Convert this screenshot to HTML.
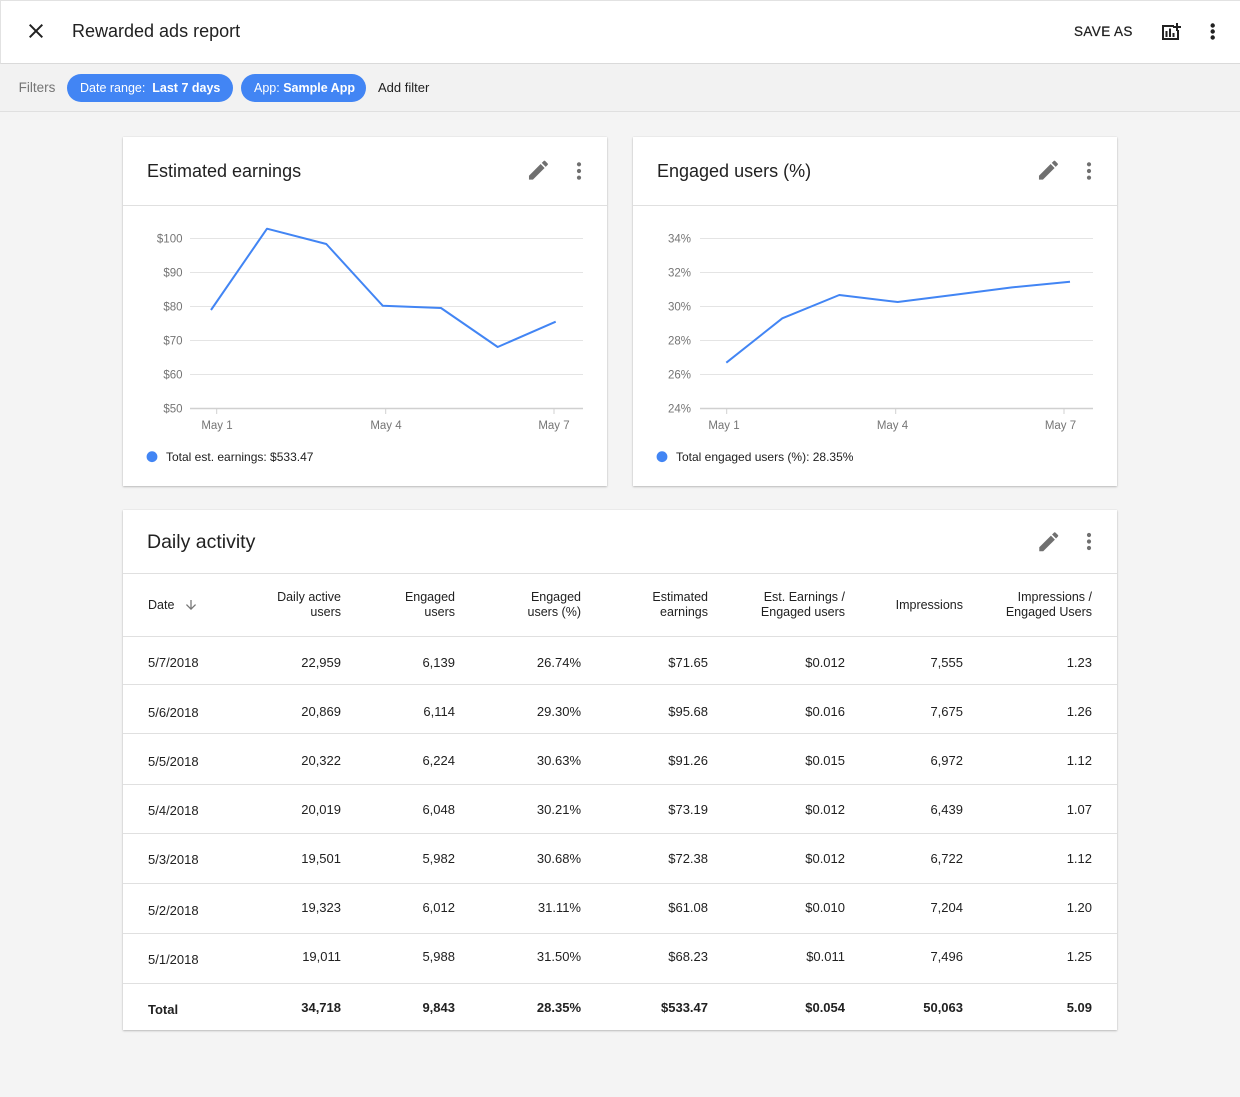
<!DOCTYPE html>
<html><head><meta charset="utf-8">
<style>
*{box-sizing:border-box}
html,body{margin:0;padding:0}
body{width:1240px;height:1097px;background:#f4f4f4;position:relative;overflow:hidden;font-family:"Liberation Sans",Arial,sans-serif;color:#212121}
.a{position:absolute;white-space:nowrap}
.top{position:absolute;left:0;top:0;width:1240px;height:64px;background:#fff;border-top:1px solid #e2e2e2;border-bottom:1px solid #dadada;border-left:1px solid #e2e2e2}
.fbar{position:absolute;left:0;top:64px;width:1240px;height:48px;background:#f2f2f2;border-bottom:1px solid #e0e0e0}
.chip{position:absolute;top:74px;height:28px;border-radius:14px;background:#4285f4;color:#fff;font-size:12.5px;line-height:28px;padding:0 0 0 13px;white-space:nowrap}
.card{position:absolute;background:#fff;box-shadow:0 1px 2px rgba(0,0,0,.22),0 0 1px rgba(0,0,0,.12)}
.hr{position:absolute;height:1px;background:#e0e0e0}
.h{position:absolute;font-size:12.5px;line-height:15px;text-align:right;white-space:nowrap;color:#212121}
.r{position:absolute;left:0;width:1240px;height:20px}
.r div{position:absolute;top:0;font-size:13px;line-height:20px;white-space:nowrap;color:#212121}
.r .c0{left:148px}
.c1{right:899px}.c2{right:785px}.c3{right:659px}.c4{right:532px}.c5{right:395px}.c6{right:277px}.c7{right:148px}
.b div{font-weight:bold}
</style></head><body>

<div class="top"></div>
<div class="fbar"></div>
<div class="a" style="left:72px;top:19px;font-size:18px;line-height:24px;color:#212121">Rewarded ads report</div>
<div class="a" style="left:1074px;top:23px;font-size:13.5px;line-height:18px;letter-spacing:0.4px;color:#202020;-webkit-text-stroke:0.25px #202020">SAVE AS</div>

<div class="a" style="left:18.6px;top:79px;font-size:13.5px;line-height:18px;color:#757575">Filters</div>
<div class="chip" style="left:67px;width:166px">Date range:&nbsp; <b>Last 7 days</b></div>
<div class="chip" style="left:241px;width:125px">App:&nbsp;<b>Sample App</b></div>
<div class="a" style="left:378px;top:79px;font-size:13px;line-height:18px;color:#212121">Add filter</div>

<!-- cards -->
<div class="card" style="left:123px;top:137px;width:484px;height:349px"></div>
<div class="card" style="left:633px;top:137px;width:484px;height:349px"></div>
<div class="card" style="left:123px;top:510px;width:994px;height:520px"></div>

<div class="hr" style="left:123px;top:205px;width:484px"></div>
<div class="hr" style="left:633px;top:205px;width:484px"></div>

<div class="a" style="left:147px;top:158.7px;font-size:18px;line-height:24px;color:#212121">Estimated earnings</div>
<div class="a" style="left:657px;top:158.7px;font-size:18px;line-height:24px;color:#212121">Engaged users (%)</div>
<div class="a" style="left:147px;top:529.3px;font-size:19.5px;line-height:26px;color:#212121">Daily activity</div>

<svg class="a" style="left:0;top:0" width="1240" height="1097" viewBox="0 0 1240 1097" xmlns="http://www.w3.org/2000/svg">
  <!-- top bar icons -->
  <path transform="translate(24,19)" fill="#212121" d="M19 6.41L17.59 5 12 10.59 6.41 5 5 6.41 10.59 12 5 17.59 6.41 19 12 13.41 17.59 19 19 17.59 13.41 12z"/>
  <g fill="none" stroke="#212121" stroke-width="2">
    <path d="M1174 26 H1163 V39 H1178 V30"/>
  </g>
  <g fill="#212121">
    <rect x="1165.5" y="31" width="2" height="6"/>
    <rect x="1169" y="28.5" width="2" height="8.5"/>
    <rect x="1172.5" y="33" width="2" height="4"/>
    <rect x="1176" y="23" width="2" height="8"/>
    <rect x="1173" y="26" width="8" height="2"/>
    <circle cx="1212.7" cy="25.5" r="2.2"/>
    <circle cx="1212.7" cy="31.5" r="2.2"/>
    <circle cx="1212.7" cy="37.5" r="2.2"/>
  </g>

  <!-- card icons -->
  <g fill="#707070">
    <path transform="translate(525.8,157.5) scale(1.055)" d="M3 17.25V21h3.750L17.81 9.94l-3.75-3.75L3 17.25zM20.71 7.04c.39-.39.39-1.02 0-1.41l-2.34-2.34c-.39-.39-1.02-.39-1.41 0l-1.830 1.83 3.75 3.75 1.83-1.83z"/>
    <path transform="translate(1035.8,157.5) scale(1.055)" d="M3 17.25V21h3.75L17.81 9.94l-3.75-3.75L3 17.25zM20.71 7.04c.39-.39.39-1.02 0-1.41l-2.34-2.34c-.39-.39-1.02-.39-1.41 0l-1.83 1.83 3.75 3.75 1.83-1.83z"/>
    <path transform="translate(1036.1,529.1) scale(1.055)" d="M3 17.25V21h3.75L17.81 9.94l-3.75-3.75L3 17.25zM20.71 7.04c.39-.39.39-1.02 0-1.41l-2.34-2.34c-.39-.39-1.02-.39-1.41 0l-1.83 1.83 3.75 3.75 1.83-1.83z"/>
    <circle cx="579" cy="164.3" r="2.1"/><circle cx="579" cy="171" r="2.1"/><circle cx="579" cy="177.7" r="2.1"/>
    <circle cx="1089" cy="164.3" r="2.1"/><circle cx="1089" cy="171" r="2.1"/><circle cx="1089" cy="177.7" r="2.1"/>
    <circle cx="1089" cy="535" r="2.1"/><circle cx="1089" cy="541.5" r="2.1"/><circle cx="1089" cy="548" r="2.1"/>
  </g>
  <path transform="translate(183.5,597.5) scale(0.625)" fill="#757575" d="M20 12l-1.41-1.41L13 16.17V4h-2v12.17l-5.58-5.59L4 12l8 8 8-8z"/>

  <!-- chart 1 -->
  <g stroke="#e4e4e4" stroke-width="1">
    <line x1="190" x2="583" y1="238.5" y2="238.5"/>
    <line x1="190" x2="583" y1="272.5" y2="272.5"/>
    <line x1="190" x2="583" y1="306.5" y2="306.5"/>
    <line x1="190" x2="583" y1="340.5" y2="340.5"/>
    <line x1="190" x2="583" y1="374.5" y2="374.5"/>
  </g>
  <line x1="190" x2="583" y1="408.5" y2="408.5" stroke="#d0d0d0" stroke-width="1.5"/>
  <g stroke="#d0d0d0" stroke-width="1">
    <line x1="216.7" x2="216.7" y1="409" y2="414"/>
    <line x1="385.7" x2="385.7" y1="409" y2="414"/>
    <line x1="554" x2="554" y1="409" y2="414"/>
  </g>
  <g font-family="Liberation Sans, Arial, sans-serif" font-size="11.5" fill="#757575" text-anchor="end">
    <text x="182.5" y="242.3">$100</text>
    <text x="182.5" y="276.3">$90</text>
    <text x="182.5" y="310.3">$80</text>
    <text x="182.5" y="344.3">$70</text>
    <text x="182.5" y="378.3">$60</text>
    <text x="182.5" y="412.3">$50</text>
  </g>
  <g font-family="Liberation Sans, Arial, sans-serif" font-size="11.5" fill="#757575" text-anchor="middle">
    <text x="217" y="429">May 1</text>
    <text x="386" y="429">May 4</text>
    <text x="554" y="429">May 7</text>
  </g>
  <polyline fill="none" stroke="#4285f4" stroke-width="2" stroke-linejoin="round" points="211,310 267,228.7 326.3,244 382.7,305.7 441,308 497.7,347 555.7,321.7"/>
  <circle cx="152" cy="456.7" r="5.4" fill="#4285f4"/>
  <text x="166" y="461" font-family="Liberation Sans, Arial, sans-serif" font-size="12" fill="#212121">Total est. earnings: $533.47</text>

  <!-- chart 2 -->
  <g stroke="#e4e4e4" stroke-width="1">
    <line x1="700" x2="1093" y1="238.5" y2="238.5"/>
    <line x1="700" x2="1093" y1="272.5" y2="272.5"/>
    <line x1="700" x2="1093" y1="306.5" y2="306.5"/>
    <line x1="700" x2="1093" y1="340.5" y2="340.5"/>
    <line x1="700" x2="1093" y1="374.5" y2="374.5"/>
  </g>
  <line x1="700" x2="1093" y1="408.5" y2="408.5" stroke="#d0d0d0" stroke-width="1.5"/>
  <g stroke="#d0d0d0" stroke-width="1">
    <line x1="726.7" x2="726.7" y1="409" y2="414"/>
    <line x1="895.7" x2="895.7" y1="409" y2="414"/>
    <line x1="1064" x2="1064" y1="409" y2="414"/>
  </g>
  <g font-family="Liberation Sans, Arial, sans-serif" font-size="11.5" fill="#757575" text-anchor="end">
    <text x="691" y="242.3">34%</text>
    <text x="691" y="276.3">32%</text>
    <text x="691" y="310.3">30%</text>
    <text x="691" y="344.3">28%</text>
    <text x="691" y="378.3">26%</text>
    <text x="691" y="412.3">24%</text>
  </g>
  <g font-family="Liberation Sans, Arial, sans-serif" font-size="11.5" fill="#757575" text-anchor="middle">
    <text x="724" y="429">May 1</text>
    <text x="892.5" y="429">May 4</text>
    <text x="1060.5" y="429">May 7</text>
  </g>
  <polyline fill="none" stroke="#4285f4" stroke-width="2" stroke-linejoin="round" points="726.3,362.7 782.3,318.3 839.3,295 897.7,302 955,294.7 1012,287.4 1070,281.7"/>
  <circle cx="662" cy="456.7" r="5.4" fill="#4285f4"/>
  <text x="676" y="461" font-family="Liberation Sans, Arial, sans-serif" font-size="12" fill="#212121">Total engaged users (%): 28.35%</text>
</svg>

<!-- table lines -->
<div class="hr" style="left:123px;top:573px;width:994px"></div>
<div class="hr" style="left:123px;top:636px;width:994px"></div>
<div class="hr" style="left:123px;top:684px;width:994px"></div>
<div class="hr" style="left:123px;top:733px;width:994px"></div>
<div class="hr" style="left:123px;top:784px;width:994px"></div>
<div class="hr" style="left:123px;top:833px;width:994px"></div>
<div class="hr" style="left:123px;top:883px;width:994px"></div>
<div class="hr" style="left:123px;top:933px;width:994px"></div>
<div class="hr" style="left:123px;top:983px;width:994px"></div>

<!-- table header -->
<div class="h" style="left:148px;top:597.5px;text-align:left">Date</div>
<div class="h" style="right:899px;top:590px">Daily active<br>users</div>
<div class="h" style="right:785px;top:590px">Engaged<br>users</div>
<div class="h" style="right:659px;top:590px">Engaged<br>users (%)</div>
<div class="h" style="right:532px;top:590px">Estimated<br>earnings</div>
<div class="h" style="right:395px;top:590px">Est. Earnings /<br>Engaged users</div>
<div class="h" style="right:277px;top:597.5px">Impressions</div>
<div class="h" style="right:148px;top:590px">Impressions /<br>Engaged Users</div>

<!-- rows -->
<div class="r" style="top:653px"><div class="c0" style="top:0">5/7/2018</div><div class="c1">22,959</div><div class="c2">6,139</div><div class="c3">26.74%</div><div class="c4">$71.65</div><div class="c5">$0.012</div><div class="c6">7,555</div><div class="c7">1.23</div></div>
<div class="r" style="top:702px"><div class="c0" style="top:1px">5/6/2018</div><div class="c1">20,869</div><div class="c2">6,114</div><div class="c3">29.30%</div><div class="c4">$95.68</div><div class="c5">$0.016</div><div class="c6">7,675</div><div class="c7">1.26</div></div>
<div class="r" style="top:751px"><div class="c0" style="top:1px">5/5/2018</div><div class="c1">20,322</div><div class="c2">6,224</div><div class="c3">30.63%</div><div class="c4">$91.26</div><div class="c5">$0.015</div><div class="c6">6,972</div><div class="c7">1.12</div></div>
<div class="r" style="top:800px"><div class="c0" style="top:1px">5/4/2018</div><div class="c1">20,019</div><div class="c2">6,048</div><div class="c3">30.21%</div><div class="c4">$73.19</div><div class="c5">$0.012</div><div class="c6">6,439</div><div class="c7">1.07</div></div>
<div class="r" style="top:849px"><div class="c0" style="top:1px">5/3/2018</div><div class="c1">19,501</div><div class="c2">5,982</div><div class="c3">30.68%</div><div class="c4">$72.38</div><div class="c5">$0.012</div><div class="c6">6,722</div><div class="c7">1.12</div></div>
<div class="r" style="top:898px"><div class="c0" style="top:3px">5/2/2018</div><div class="c1">19,323</div><div class="c2">6,012</div><div class="c3">31.11%</div><div class="c4">$61.08</div><div class="c5">$0.010</div><div class="c6">7,204</div><div class="c7">1.20</div></div>
<div class="r" style="top:947px"><div class="c0" style="top:3px">5/1/2018</div><div class="c1">19,011</div><div class="c2">5,988</div><div class="c3">31.50%</div><div class="c4">$68.23</div><div class="c5">$0.011</div><div class="c6">7,496</div><div class="c7">1.25</div></div>
<div class="r b" style="top:998px"><div class="c0" style="top:2px">Total</div><div class="c1">34,718</div><div class="c2">9,843</div><div class="c3">28.35%</div><div class="c4">$533.47</div><div class="c5">$0.054</div><div class="c6">50,063</div><div class="c7">5.09</div></div>

</body></html>
